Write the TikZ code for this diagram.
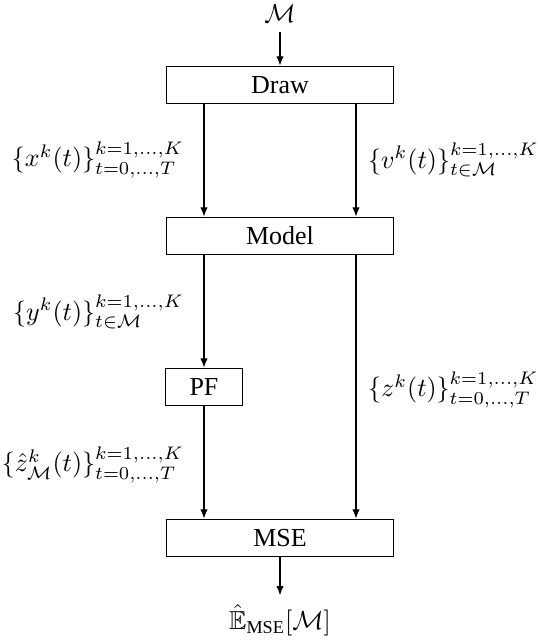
\documentclass[tikz,border=0pt]{standalone}
\usepackage{amsmath,amssymb}
\usepackage[no-math]{fontspec}
\setmainfont{Liberation Serif}
\usetikzlibrary{arrows.meta}

\begin{document}
\begin{tikzpicture}[x=0.385pt, y=-0.385pt,
      block/.style = {draw, minimum width=87.4pt, minimum height=14.6pt,
        inner sep=0pt},
      pfblock/.style = {block, minimum width=29.3pt},
      flow/.style = {-{Latex[length=3.5pt,width=2.8pt]}}]
  \useasboundingbox (0,0) rectangle (538,640);
  \node[block] (draw) at (280,85) {Draw};
  \node[block] (model) at (280,236) {Model};
  \node[pfblock] (pf) at (204,387) {PF};
  \node[block] (mse) at (280,538) {MSE};
  \node (m) at (280,14) {$\mathcal{M}$};
  \node (ehat) at (280,620) {$\hat{\mathbb{E}}_{\text{MSE}}[\mathcal{M}]$};
  \coordinate (rline) at (356,0);
  % labels
  \node[anchor=east] (xlab) at (193,160) {$\{x^k(t)\}_{t=0,\ldots,T}^{k=1,\ldots,K}$};
  \node[anchor=west] (vlab) at (359,160) {$\{v^k(t)\}_{t\in\mathcal{M}}^{k=1,\ldots,K}$};
  \node[anchor=east] (ylab) at (193,312) {$\{y^k(t)\}_{t\in\mathcal{M}}^{k=1,\ldots,K}$};
  \node[anchor=west] (zlab) at (359,390) {$\{z^k(t)\}_{t=0,\ldots,T}^{k=1,\ldots,K}$};
  \node[anchor=east] (zhlab) at (193,465) {$\{\hat{z}_{\mathcal{M}}^k(t)\}_{t=0,\ldots,T}^{k=1,\ldots,K}$};
  % arrows
  \draw[flow] (m) -- (draw);
  \draw[flow] (draw.south -| pf) -- (model.north -| pf);
  \draw[flow] (draw.south -| rline) -- (model.north -| rline);
  \draw[flow] (model.south -| pf) -- (pf);
  \draw[flow] (pf) -- (mse.north -| pf);
  \draw[flow] (model.south -| rline) -- (mse.north -| rline);
  \draw[flow] (mse) -- (ehat);
\end{tikzpicture}
\end{document}
